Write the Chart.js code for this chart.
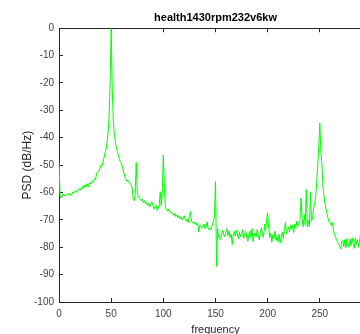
<!DOCTYPE html>
<html>
<head>
<meta charset="utf-8">
<script src="https://cdn.jsdelivr.net/npm/chart.js@4.4.0/dist/chart.umd.min.js"></script>
<style>
  html, body { margin: 0; padding: 0; background: #fff; }
  #wrap { width: 360px; height: 334px; overflow: hidden; position: relative; }
  #psdChart { position: absolute; left: 0; top: 0; }
</style>
</head>
<body>
<div id="wrap"><canvas id="psdChart" width="372" height="338"></canvas></div>
<script>
// --- chart texts ---
const TITLE = 'health1430rpm232v6kw';
const X_LABEL = 'frequency';
const Y_LABEL = 'PSD (dB/Hz)';

// --- axes ---
const X_MIN = 0, X_MAX = 300, X_STEP = 50;
const Y_MIN = -100, Y_MAX = 0, Y_STEP = 10;

// frequency grid spacing (Hz) of the PSD estimate
const FREQ_STEP = 1;

// PSD values (dB/Hz), one per Hz starting at 0 Hz
const psd = [
  -49, -61, -62, -61.5, -60.5, -61, -61.2, -60.8, -60.5, -61,          // 0
  -60.2, -60.8, -61, -59.8, -60.4, -59.6, -59.2, -59.9, -59, -58.6,    // 10
  -59.3, -58.5, -58.8, -57.6, -58.2, -57.2, -57.9, -56.8, -58, -56.5,  // 20
  -56.9, -56, -55.8, -56.4, -54.8, -55.2, -53, -52.4, -52.4, -51.5,    // 30
  -50, -50.5, -49, -47.5, -45.7, -44.5, -42, -38.5, -32, -20,          // 40
  0, -22, -33, -38.5, -41.5, -43.5, -45, -46.5, -48, -49,              // 50
  -49.5, -51, -52.5, -54, -55, -55.8, -55.5, -56.3, -56.6, -57.2,      // 60
  -58, -62, -63, -61, -49, -60, -61.5, -62, -62.5, -63,                // 70
  -62.5, -63.8, -63, -64.2, -63.6, -64.8, -64, -65.2, -64.5, -63.4,    // 80
  -64.8, -66, -65.2, -64.7, -66.5, -65.8, -64.6, -59.7, -64.8, -60,    // 90
  -46.4, -58, -65.2, -66.2, -66.8, -66, -67.2, -66.9, -67.8, -67.5,    // 100
  -68.4, -67.7, -68.8, -68.2, -69.2, -68.5, -69.6, -68.9, -70, -69.4,  // 110
  -68.5, -69.8, -70.5, -69.6, -71, -68.5, -67, -70.4, -71.2, -70.6,    // 120
  -71.5, -70.8, -72, -71.3, -74.5, -71.8, -72.2, -73, -72.4, -71.5,    // 130
  -73.2, -72.6, -70.7, -73.5, -72.9, -73.7, -72.8, -72, -70.5, -69,    // 140
  -56, -87, -73, -76.5, -76.7, -77.2, -75, -73.8, -75.5, -76.2,        // 150
  -74.5, -73.2, -75.8, -74, -76.5, -75.2, -79, -75.5, -74.2, -76,      // 160
  -73.8, -75, -77, -74.5, -76.2, -75.4, -73.6, -76.8, -75, -74.2,      // 170
  -76.5, -77.8, -75.3, -74, -76.4, -73.2, -78, -75.6, -74.8, -76.2,    // 180
  -73.5, -75.8, -77.4, -74.6, -72.8, -75.2, -76.4, -71.5, -74, -70,    // 190
  -67.5, -73, -76.5, -74.8, -78.2, -75.5, -76.8, -74.2, -77.5, -76,    // 200
  -78, -75.2, -78.5, -76.4, -74.5, -76.8, -73.5, -71, -75.2, -73.8,    // 210
  -72.6, -74.5, -71.8, -73.4, -72, -74.6, -71.5, -72.8, -70.4, -72.2,  // 220
  -71, -70, -62, -69.5, -72.5, -68, -71.8, -59, -72.6, -70,            // 230
  -72.5, -60, -70.5, -69.5, -66, -64, -61.5, -56, -50, -43,            // 240
  -34.7, -45, -50, -58, -61.5, -64, -66, -68, -69.5, -71,              // 250
  -71.2, -72, -71, -73.5, -75.5, -76, -77.5, -78, -79, -79.5,          // 260
  -80.6, -78, -77.5, -79.8, -77.2, -80.2, -76.8, -78.6, -80, -77,      // 270
  -79.4, -76.5, -78.8, -80.4, -76.8, -79, -77.2, -80, -78.2, -75,      // 280
  -77, -78.5, -76                                                       // 290
];

const AXIS_COLOR = '#262626';
const TICK_COLOR = '#404040';
const LINE_COLOR = '#00ff00';
const FONT = 'Liberation Sans, Arial, sans-serif';

const points = psd.map((v, i) => ({ x: i * FREQ_STEP, y: v }));

// the 300 label sits outside the visible window; drop it so it doesn't pad the chart area
const dropLastTick = s => { s.ticks = s.ticks.filter(t => t.value < X_MAX); };

new Chart(document.getElementById('psdChart'), {
  type: 'line',
  data: {
    datasets: [{
      data: points,
      borderColor: LINE_COLOR,
      borderWidth: 1,
      pointRadius: 0,
      tension: 0,
      fill: false
    }]
  },
  options: {
    responsive: false,
    animation: false,
    layout: { padding: 0 },
    plugins: {
      legend: { display: false },
      tooltip: { enabled: false },
      title: {
        display: true,
        text: TITLE,
        fullSize: false,
        color: '#000',
        font: { family: FONT, size: 11, weight: 'bold' },
        padding: { top: 11, bottom: 4 }
      }
    },
    scales: {
      x: {
        type: 'linear',
        position: 'bottom',
        min: X_MIN, max: X_MAX,
        border: { color: AXIS_COLOR, width: 1 },
        grid: { drawOnChartArea: false, color: AXIS_COLOR, tickLength: -4 },
        ticks: {
          stepSize: X_STEP, color: TICK_COLOR, padding: 10, maxRotation: 0,
          font: { family: FONT, size: 10 }
        },
        title: {
          display: true, text: X_LABEL, color: AXIS_COLOR,
          font: { family: FONT, size: 11 },
          padding: { top: 0, bottom: 1 }
        },
        afterBuildTicks: dropLastTick,
        afterFit: s => { s.height = 36; s.paddingRight = 0; }
      },
      xTop: {
        type: 'linear',
        position: 'top',
        min: X_MIN, max: X_MAX,
        border: { color: AXIS_COLOR, width: 1 },
        grid: { drawOnChartArea: false, color: AXIS_COLOR, tickLength: -4 },
        ticks: { stepSize: X_STEP, display: false },
        afterFit: s => { s.height = 0; s.paddingRight = 0; }
      },
      y: {
        type: 'linear',
        min: Y_MIN, max: Y_MAX,
        border: { color: AXIS_COLOR, width: 1 },
        grid: { drawOnChartArea: false, color: AXIS_COLOR, tickLength: -4 },
        ticks: {
          stepSize: Y_STEP, color: TICK_COLOR, padding: 9,
          font: { family: FONT, size: 10 }
        },
        title: {
          display: true, text: Y_LABEL, color: AXIS_COLOR,
          font: { family: FONT, size: 12 },
          padding: { top: 20, bottom: 0 }
        },
        afterFit: s => { s.width = 59; }
      }
    }
  }
});
</script>
</body>
</html>
